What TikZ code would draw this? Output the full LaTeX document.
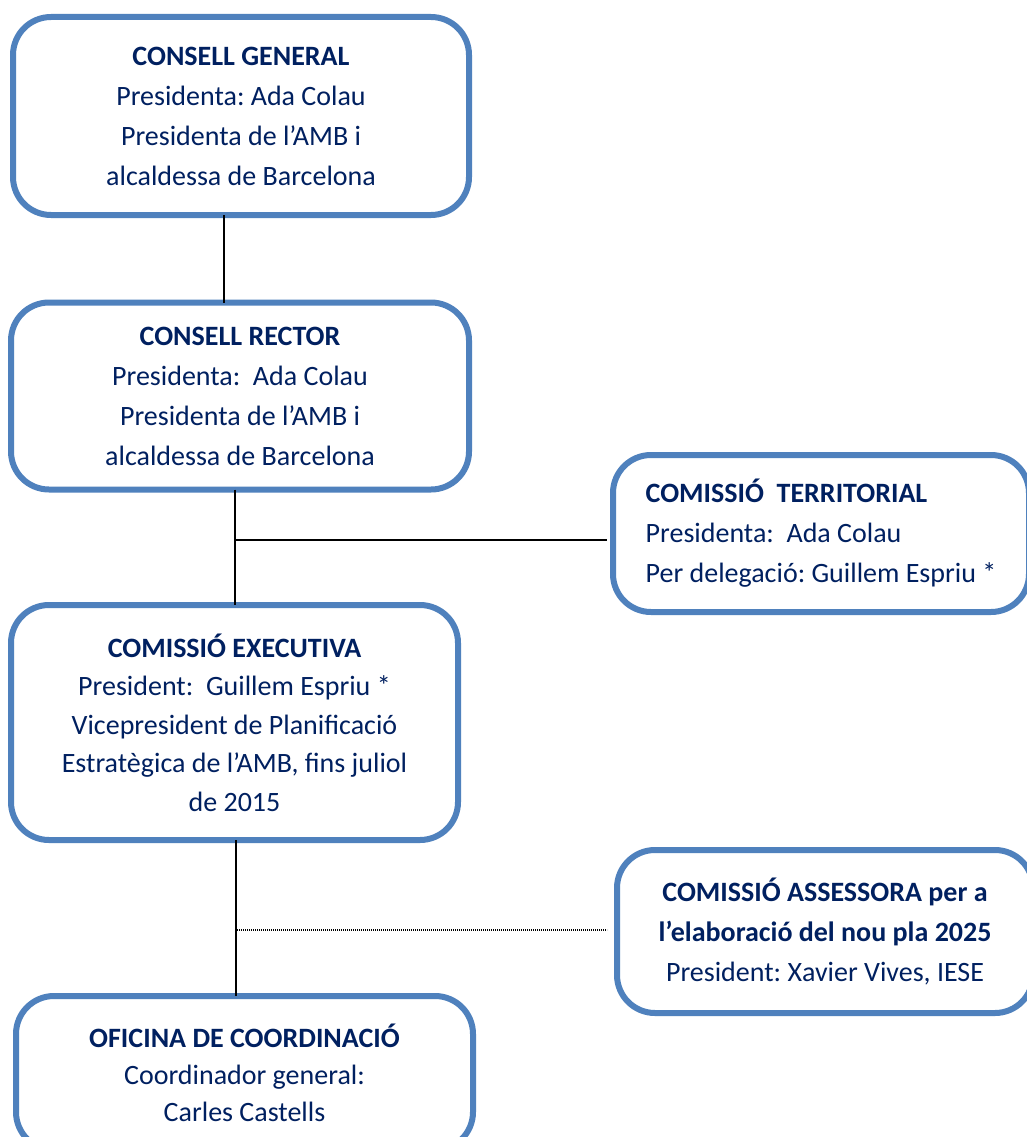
\documentclass[tikz,border=0pt]{standalone}
\usepackage{fontspec}
\setmainfont{Carlito}
\frenchspacing
\definecolor{boxblue}{HTML}{4F81BD}
\definecolor{navy}{HTML}{002060}
\begin{document}
\begin{tikzpicture}[x=1pt,y=-1pt,
  orgbox/.style={draw=boxblue, line width=6pt, rounded corners=38pt, fill=white,
    text=navy, align=center, inner sep=0pt},
  link/.style={draw=black, line width=1.8pt},
  dotlink/.style={draw=black, line width=1.6pt, dash pattern=on 1.2pt off 0.8pt}]
\useasboundingbox (0,0) rectangle (1027,1137);
\clip (0,0) rectangle (1027,1137);
\fill[white] (0,0) rectangle (1027,1137);

\node[orgbox, minimum width=456pt, minimum height=198pt,
  font=\fontsize{28}{40}\selectfont] (g) at (241,116)
  {\textbf{CONSELL GENERAL}\\Presidenta: Ada Colau\\Presidenta de l’AMB i\\alcaldessa de Barcelona};

\node[orgbox, minimum width=458pt, minimum height=187pt,
  font=\fontsize{28}{40}\selectfont] (r) at (240,396)
  {\textbf{CONSELL RECTOR}\\Presidenta:\ \ Ada Colau\\Presidenta de l’AMB i\\alcaldessa de Barcelona};

\node[orgbox, align=left, minimum width=416pt, minimum height=157pt,
  font=\fontsize{28}{40}\selectfont] (t) at (821,533.5)
  {\textbf{COMISSIÓ\ \ TERRITORIAL}\\Presidenta:\ \ Ada Colau\\Per delegació: Guillem Espriu *};

\node[orgbox, minimum width=447pt, minimum height=235pt,
  font=\fontsize{28}{38.5}\selectfont] (e) at (234.5,722.5)
  {\textbf{COMISSIÓ EXECUTIVA}\\President:\ \ Guillem Espriu *\\Vicepresident de Planificació\\Estratègica de l’AMB, fins juliol\\de 2015};

\node[orgbox, minimum width=416pt, minimum height=163pt,
  font=\fontsize{28}{40}\selectfont] (a) at (825,931.5)
  {\textbf{COMISSIÓ ASSESSORA per a}\\\textbf{l’elaboració del nou pla 2025}\\President: Xavier Vives, IESE};

\node[orgbox, minimum width=457pt, minimum height=154pt,
  font=\fontsize{28}{37}\selectfont] (o) at (244.5,1073)
  {\textbf{OFICINA DE COORDINACIÓ}\\Coordinador general:\\Carles Castells};

\draw[link] ([yshift=3pt]g.south -| 224,0) -- ([yshift=-3pt]r.north -| 224,0);
\draw[link] ([yshift=3pt]r.south -| 235,0) -- ([yshift=-3pt]e.north -| 235,0);
\draw[link] (e.north -| 235,0) ++(0,-62) coordinate (hl) -- ([xshift=-3pt]t.west |- hl);
\draw[link] ([yshift=3pt]e.south -| 236,0) -- ([yshift=-3pt]o.north -| 236,0);
\draw[dotlink] (e.south -| 237,0) ++(0,87) coordinate (dl) -- ([xshift=-7pt]a.west |- dl);
\end{tikzpicture}
\end{document}
